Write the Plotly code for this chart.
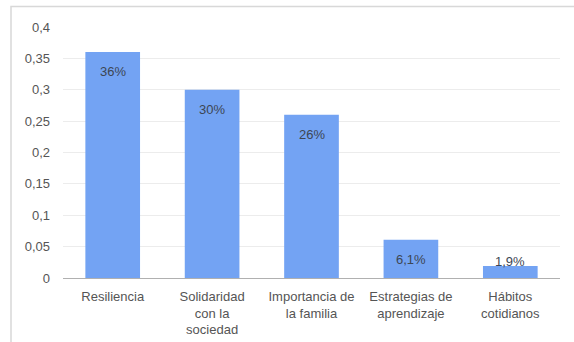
import plotly.graph_objects as go

categories = ["Resiliencia", "Solidaridad<br>con la<br>sociedad", "Importancia de<br>la familia",
              "Estrategias de<br>aprendizaje", "Hábitos<br>cotidianos"]
values = [0.36, 0.30, 0.26, 0.061, 0.019]
value_labels = ["36%", "30%", "26%", "6,1%", "1,9%"]
y_ticks = [0, 0.05, 0.1, 0.15, 0.2, 0.25, 0.3, 0.35, 0.4]

FONT = "Arial, Liberation Sans, sans-serif"
ML, MR, MT, MB = 63, 14, 27, 64
W, H = 574, 342
PH = H - MT - MB
PW = W - ML - MR
ymax = 0.4

fig = go.Figure(go.Bar(
    x=categories, y=values, marker=dict(color="#73a3f3", line=dict(width=0)),
    hoverinfo="skip",
))

ann = []
for c, v, t in zip(categories, values, value_labels):
    px = v / ymax * PH
    if px > 25:
        ann.append(dict(x=c, y=v, text=t, showarrow=False, yanchor="top", yshift=-10,
                        font=dict(family=FONT, size=13, color="#3d4654")))
    else:
        ann.append(dict(x=c, y=v, text=t, showarrow=False, yanchor="middle", yshift=5,
                        font=dict(family=FONT, size=13, color="#3d4654")))

fig.update_layout(
    width=W, height=H,
    margin=dict(l=ML, r=MR, t=MT, b=MB),
    paper_bgcolor="white", plot_bgcolor="white",
    separators=", ",
    bargap=0.45,
    showlegend=False,
    annotations=ann,
    font=dict(family=FONT, size=13, color="#555555"),
    xaxis=dict(showgrid=False, ticks="", showline=True, linecolor="#b0b0b0", linewidth=1,
               ticklabelstandoff=6, automargin=False,
               tickfont=dict(family=FONT, size=13, color="#555555"), fixedrange=True),
    yaxis=dict(range=[0, ymax], tickvals=y_ticks, showgrid=True, gridcolor="#ececec", gridwidth=1,
               zeroline=False, showline=False, ticks="", ticklabelstandoff=12, automargin=False,
               tickfont=dict(family=FONT, size=13, color="#555555"), fixedrange=True),
    shapes=[dict(type="rect", xref="paper", yref="paper",
                 x0=(11 - ML) / PW, x1=(W + 10 - ML) / PW,
                 y0=-(H + 10 - (H - MB)) / PH, y1=1 + (MT - 6.5) / PH,
                 line=dict(color="#d8d8d8", width=1.5), layer="below")],
)

fig.write_html("out.html")
